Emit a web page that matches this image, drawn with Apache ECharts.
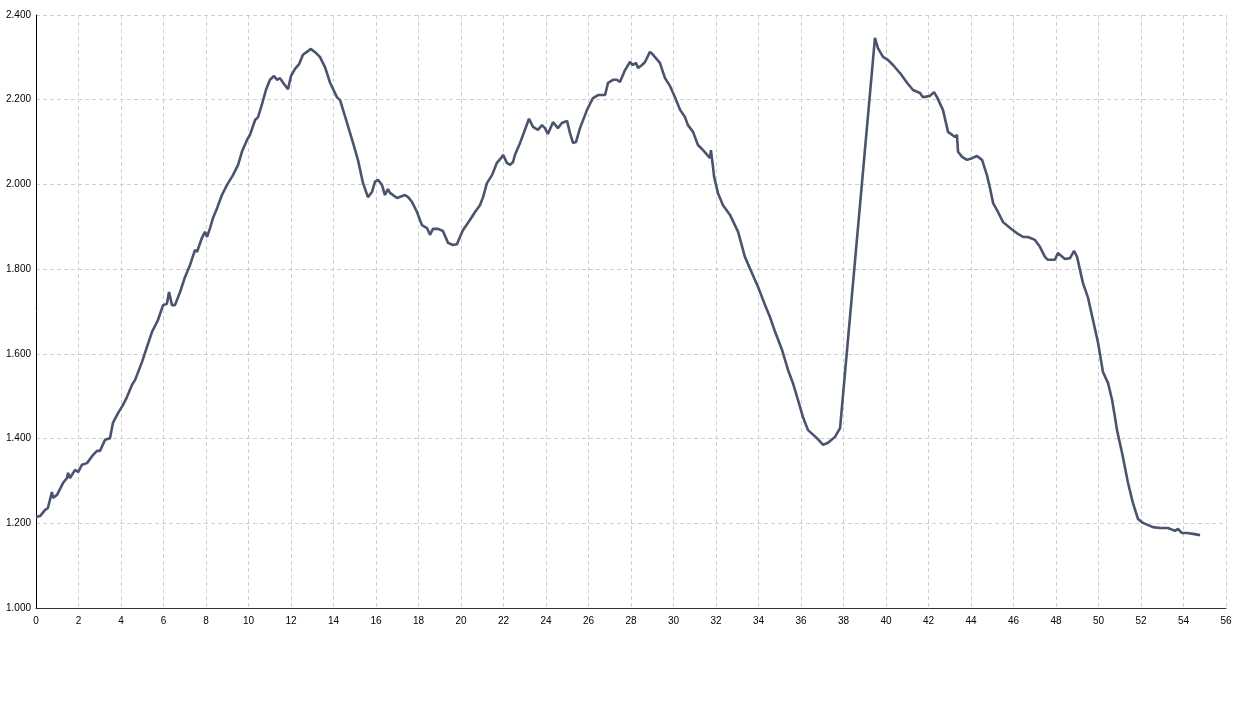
<!DOCTYPE html>
<html>
<head>
<meta charset="utf-8">
<script src="https://cdn.jsdelivr.net/npm/echarts@6/dist/echarts.min.js"></script>
<style>html,body{margin:0;padding:0;background:#fff}#chart{width:1239px;height:722px}</style>
</head>
<body>
<div id="chart"></div>
<script>
// Distance (km)
const distanceKm = [
0,0.19,0.42,0.56,0.75,0.80,0.99,1.27,1.46,1.51,1.60,1.84,1.98,2.16,2.40,2.68,2.87,3.01,3.25,3.48,
3.62,3.86,4.09,4.28,4.52,4.66,4.99,5.22,5.46,5.74,5.98,6.16,6.26,6.40,6.54,6.78,7.01,7.25,7.48,7.58,
7.81,7.95,8.05,8.19,8.33,8.52,8.75,8.99,9.27,9.51,9.69,9.93,10.07,10.31,10.45,10.64,10.82,11.01,11.20,11.34,
11.48,11.67,11.86,12.00,12.19,12.38,12.56,12.75,12.94,13.18,13.36,13.60,13.84,14.16,14.31,14.64,14.92,15.15,15.39,15.62,
15.81,15.95,16.09,16.28,16.42,16.56,16.66,16.99,17.36,17.51,17.69,17.93,18.16,18.40,18.54,18.68,18.92,19.15,19.39,19.62,
19.81,19.95,20.09,20.42,20.66,20.89,21.04,21.22,21.46,21.69,21.93,21.98,22.16,22.31,22.45,22.54,22.78,23.01,23.20,23.39,
23.62,23.81,23.95,24.09,24.33,24.56,24.75,24.99,25.13,25.27,25.41,25.60,25.93,26.21,26.45,26.78,26.92,27.15,27.34,27.48,
27.72,27.95,28.09,28.24,28.33,28.52,28.66,28.89,29.04,29.13,29.36,29.60,29.84,30.07,30.31,30.54,30.68,30.92,31.15,31.39,
31.72,31.76,31.86,31.91,32.09,32.33,32.66,33.04,33.36,33.69,33.98,34.31,34.54,34.78,35.11,35.39,35.62,35.86,36.09,36.33,
36.75,37.04,37.27,37.60,37.84,39.48,39.62,39.86,40.09,40.33,40.66,40.99,41.27,41.60,41.74,42.07,42.26,42.40,42.68,42.92,
43.25,43.34,43.39,43.58,43.81,44.05,44.28,44.52,44.75,44.89,45.04,45.27,45.51,45.84,46.21,46.45,46.68,47.01,47.25,47.48,
47.62,47.95,48.09,48.42,48.66,48.85,48.99,49.27,49.51,49.74,49.98,50.21,50.45,50.64,50.78,50.87,51.11,51.39,51.62,51.86,
52.09,52.56,52.89,53.27,53.60,53.74,53.93,54.16,54.45,54.78
];
// Elevation (m)
const elevationM = [
1215,1217,1231,1236,1274,1260,1267,1295,1307,1319,1307,1326,1321,1338,1342,1361,1371,1371,1397,1401,
1437,1460,1479,1498,1527,1538,1581,1616,1652,1680,1715,1718,1746,1715,1715,1746,1781,1810,1845,1841,
1874,1888,1876,1897,1921,1944,1975,1999,2022,2046,2077,2105,2117,2152,2159,2190,2223,2247,2256,2247,
2251,2237,2225,2256,2273,2284,2306,2313,2320,2310,2301,2277,2240,2206,2199,2145,2098,2058,2003,1970,
1982,2006,2011,1999,1975,1989,1980,1968,1975,1970,1959,1935,1904,1897,1881,1895,1895,1890,1862,1857,
1859,1876,1892,1916,1935,1951,1970,2003,2022,2051,2065,2070,2051,2046,2053,2070,2098,2129,2155,2136,
2129,2140,2133,2119,2147,2133,2145,2150,2121,2098,2100,2133,2176,2204,2211,2211,2240,2247,2247,2242,
2270,2289,2282,2287,2275,2282,2289,2313,2306,2306,2287,2251,2232,2206,2176,2159,2140,2124,2093,2081,
2062,2081,2041,2018,1980,1951,1928,1888,1829,1791,1758,1715,1687,1652,1609,1562,1531,1491,1451,1420,
1401,1385,1390,1404,1425,2346,2322,2301,2294,2282,2263,2240,2223,2216,2206,2209,2218,2206,2176,2124,
2112,2117,2077,2065,2058,2062,2067,2058,2022,1992,1956,1935,1911,1897,1883,1876,1876,1869,1852,1829,
1822,1822,1838,1824,1826,1843,1829,1767,1732,1680,1626,1557,1531,1491,1449,1420,1366,1295,1248,1210,
1201,1191,1189,1189,1182,1187,1177,1177,1175,1172
];
const xTicks = {min: 0, max: 56, interval: 2};
const yTicks = {min: 1000, max: 2400, interval: 200};

const chart = echarts.init(document.getElementById('chart'), null, {renderer: 'canvas'});
const data = distanceKm.map((d, i) => [d, elevationM[i]]);
const fmtY = v => (v / 1000).toFixed(3);
chart.setOption({
  animation: false,
  backgroundColor: '#fff',
  grid: {left: 36, right: 13, top: 15, bottom: 114, containLabel: false},
  xAxis: {
    type: 'value', min: xTicks.min, max: xTicks.max, interval: xTicks.interval,
    axisLine: {show: true, onZero: false, lineStyle: {color: '#333', width: 1}},
    axisTick: {show: false},
    axisLabel: {color: '#000', fontSize: 10, fontFamily: 'Liberation Sans, Arial, sans-serif', margin: 8},
    splitLine: {show: true, lineStyle: {color: '#cfcfcf', type: [4, 3], width: 1}}
  },
  yAxis: {
    type: 'value', min: yTicks.min, max: yTicks.max, interval: yTicks.interval,
    axisLine: {show: true, lineStyle: {color: '#000', width: 1}},
    axisTick: {show: false},
    axisLabel: {color: '#000', fontSize: 10, fontFamily: 'Liberation Sans, Arial, sans-serif', margin: 5, formatter: fmtY},
    splitLine: {show: true, lineStyle: {color: '#cfcfcf', type: [4, 3], width: 1}}
  },
  series: [{
    type: 'line', data: data, showSymbol: false, symbol: 'none',
    lineStyle: {color: '#4a546e', width: 2.6}, smooth: false
  }]
});
</script>
</body>
</html>
